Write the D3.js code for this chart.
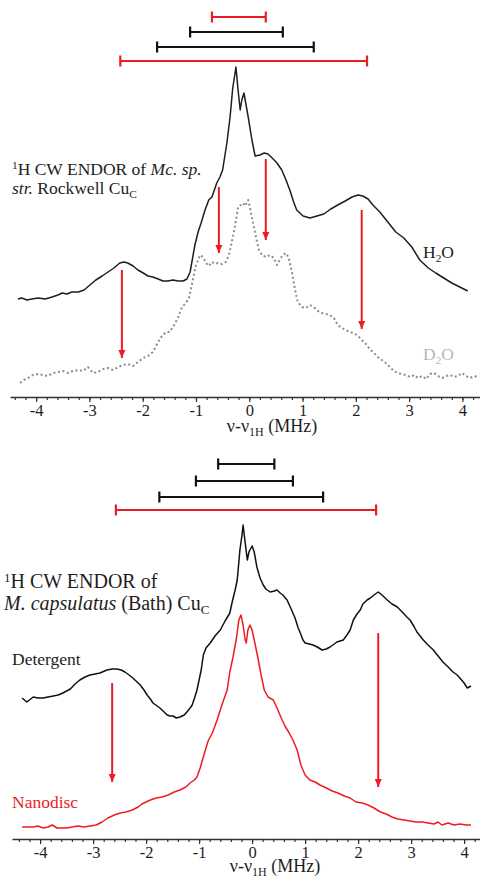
<!DOCTYPE html>
<html>
<head>
<meta charset="utf-8">
<script src="https://cdn.jsdelivr.net/npm/d3@7"></script>
<style>
  body { margin: 0; background: #fff; }
  svg text { font-family: 'Liberation Serif', 'Times New Roman', 'DejaVu Serif', serif; }
</style>
</head>
<body>
<svg id="chart" width="480" height="878"></svg>
<script>
// ---- top panel: Mc. sp. str. Rockwell CuC (intensity in arbitrary units) ----
var h2oMHz = [-4.34,-4.27,-4.17,-4.08,-3.96,-3.83,-3.70,-3.59,-3.51,-3.42,-3.33,-3.21,-3.10,-2.99,-2.88,-2.76,-2.65,-2.54,-2.43,-2.35,
              -2.28,-2.18,-2.09,-1.99,-1.90,-1.81,-1.71,-1.62,-1.53,-1.43,-1.34,-1.24,-1.17,-1.11,-1.08,-1.02,-0.96,-0.91,-0.83,-0.76,
              -0.70,-0.61,-0.55,-0.50,-0.42,-0.36,-0.31,-0.25,-0.21,-0.17,-0.14,-0.10,-0.06,-0.02,0.05,0.11,0.20,0.28,0.35,0.43,
              0.52,0.61,0.69,0.76,0.84,0.89,1.01,1.14,1.27,1.40,1.53,1.66,1.80,1.93,2.04,2.13,2.23,2.32,2.45,2.60,
              2.75,2.90,3.05,3.20,3.36,3.50,3.65,3.80,3.95,4.10];
var h2oInt = [98,99,97,98,99,98,100,102,104,103,105,105,107,112,117,121,125,129,134,135,
              134,131,127,124,121,120,118,116,116,117,116,116,118,125,134,152,165,173,187,197,
              200,214,220,227,254,280,309,330,307,287,297,304,292,280,257,241,242,244,243,239,
              234,227,217,207,194,187,181,179,181,183,188,192,196,200,202,201,198,192,185,175,
              165,159,150,137,129,124,119,114,110,106];

var d2oMHz = [-4.30,-4.23,-4.15,-4.06,-3.96,-3.87,-3.78,-3.68,-3.59,-3.49,-3.40,-3.31,-3.21,-3.12,-3.03,-2.93,-2.84,-2.74,-2.65,-2.56,
              -2.46,-2.37,-2.28,-2.18,-2.09,-1.99,-1.90,-1.81,-1.71,-1.64,-1.56,-1.49,-1.41,-1.34,-1.26,-1.19,-1.13,-1.08,-1.00,-0.92,
              -0.87,-0.81,-0.76,-0.70,-0.64,-0.59,-0.51,-0.44,-0.38,-0.32,-0.27,-0.21,-0.16,-0.12,-0.08,-0.02,0.01,0.07,0.13,0.18,
              0.24,0.31,0.39,0.46,0.52,0.58,0.63,0.69,0.74,0.80,0.86,0.91,0.99,1.06,1.14,1.21,1.29,1.36,1.44,1.51,
              1.59,1.66,1.74,1.81,1.89,1.96,2.04,2.11,2.19,2.26,2.34,2.41,2.49,2.56,2.64,2.71,2.79,2.86,2.94,3.02,
              3.09,3.17,3.24,3.32,3.39,3.47,3.54,3.62,3.69,3.77,3.84,3.92,3.99,4.07,4.14,4.23,4.31];
var d2oInt = [14,17,19,22,23,22,21,24,25,26,24,26,27,26,30,24,25,28,29,27,
              30,32,33,31,35,39,41,45,55,61,65,65,72,79,90,94,99,112,132,142,
              140,134,131,135,133,134,133,135,142,157,170,190,192,194,191,197,190,174,159,147,
              142,140,142,139,132,138,142,144,139,125,107,95,90,89,92,90,86,84,83,82,
              79,72,69,67,65,64,61,57,53,48,44,40,37,34,30,26,24,23,22,20,
              22,19,21,18,23,24,21,19,21,22,20,21,24,21,19,21,19];

// arrows: position (MHz), start and end intensity
var topArrowMHz  = [-2.39, -0.57, 0.31, 2.11],
    topArrowFrom = [127, 210, 238, 187],
    topArrowTo   = [39, 144, 157, 68];

// coupling bars: low / high edge (MHz), level (intensity units), red or black
var topBarLo    = [-0.70, -1.11, -1.73, -2.42],
    topBarHi    = [0.31, 0.63, 1.21, 2.21],
    topBarLevel = [380, 365, 350, 336],
    topBarRed   = [true, false, false, true];

// ---- bottom panel: M. capsulatus (Bath) CuC ----
var detMHz = [-4.34,-4.25,-4.13,-4.04,-3.94,-3.85,-3.75,-3.66,-3.57,-3.43,-3.34,-3.25,-3.15,-3.06,-2.96,-2.87,-2.74,-2.64,-2.55,-2.47,
              -2.40,-2.32,-2.25,-2.17,-2.11,-2.04,-1.98,-1.92,-1.87,-1.79,-1.74,-1.66,-1.60,-1.55,-1.49,-1.43,-1.36,-1.28,-1.23,-1.17,
              -1.13,-1.08,-1.04,-1.00,-0.96,-0.92,-0.87,-0.79,-0.70,-0.60,-0.51,-0.42,-0.38,-0.32,-0.28,-0.25,-0.23,-0.19,-0.17,-0.13,
              -0.09,-0.06,0.00,0.04,0.09,0.15,0.21,0.26,0.34,0.42,0.47,0.53,0.58,0.66,0.72,0.77,0.81,0.87,0.91,0.96,
              1.00,1.08,1.15,1.23,1.32,1.40,1.47,1.55,1.60,1.66,1.72,1.79,1.85,1.91,1.98,2.04,2.09,2.17,2.23,2.30,
              2.38,2.45,2.55,2.64,2.74,2.85,2.92,2.98,3.06,3.11,3.17,3.23,3.32,3.42,3.51,3.60,3.70,3.79,3.87,3.92,
              4.00,4.06,4.13];
var detInt = [141,137,142,141,141,142,143,144,146,150,155,159,162,164,165,166,169,170,170,169,
              167,164,161,157,154,149,144,140,136,133,131,127,124,123,123,121,122,124,127,131,
              134,142,149,159,169,184,191,196,203,209,218,226,236,249,259,277,289,304,314,296,
              279,287,293,287,272,261,254,250,247,248,249,246,244,239,232,226,221,211,206,199,
              196,195,194,192,189,190,192,195,197,198,199,204,209,219,225,229,235,239,241,244,
              247,244,239,235,232,226,222,219,212,207,203,199,194,189,183,177,172,167,164,161,
              156,151,153];

var nanoMHz = [-4.34,-4.25,-4.13,-4.04,-3.94,-3.85,-3.77,-3.68,-3.58,-3.49,-3.40,-3.28,-3.17,-3.06,-2.94,-2.83,-2.72,-2.60,-2.49,-2.38,
               -2.26,-2.15,-2.08,-2.00,-1.92,-1.81,-1.70,-1.58,-1.47,-1.36,-1.25,-1.17,-1.09,-1.04,-0.98,-0.91,-0.83,-0.75,-0.66,-0.57,
               -0.47,-0.42,-0.36,-0.30,-0.25,-0.21,-0.17,-0.13,-0.11,-0.08,-0.04,0.00,0.06,0.11,0.17,0.23,0.30,0.40,0.47,0.55,
               0.62,0.70,0.77,0.85,0.92,1.00,1.09,1.19,1.28,1.40,1.51,1.62,1.74,1.85,1.96,2.08,2.19,2.30,2.42,2.53,
               2.64,2.75,2.87,2.98,3.09,3.21,3.32,3.43,3.51,3.58,3.70,3.81,3.92,4.04,4.13];
var nanoInt = [12,12,12,13,11,12,14,11,11,11,12,13,12,13,14,17,21,24,26,27,
               29,32,35,37,39,41,42,44,47,49,52,56,59,62,71,84,98,106,119,134,
               149,167,182,199,219,224,214,199,196,209,214,209,194,181,164,149,142,139,131,121,
               113,106,99,89,74,64,59,57,54,51,48,46,43,41,37,36,34,31,27,25,
               22,20,19,18,17,17,16,15,17,14,16,14,15,14,14];

var botArrowMHz  = [-2.64, 2.38],
    botArrowFrom = [156, 206],
    botArrowTo   = [57, 52];

var botBarLo    = [-0.64, -1.06, -1.75, -2.57],
    botBarHi    = [0.42, 0.77, 1.34, 2.34],
    botBarLevel = [375, 358, 342, 329],
    botBarRed   = [false, false, false, true];

var majorTicks = [-4, -3, -2, -1, 0, 1, 2, 3, 4];

var RED = "#ec1c24", INK = "#1e1e1e";
var svg = d3.select("#chart");

svg.append("defs").append("marker")
    .attr("id", "head")
    .attr("viewBox", "0 0 8 8")
    .attr("refX", 8).attr("refY", 4)
    .attr("markerWidth", 8).attr("markerHeight", 8)
    .attr("markerUnits", "userSpaceOnUse")
    .attr("orient", "auto")
  .append("path")
    .attr("d", "M0,0.5L8,4L0,7.5Z")
    .attr("fill", RED);

function zipPts(xs, ys) {
  return d3.range(Math.min(xs.length, ys.length)).map(function(i){ return [xs[i], ys[i]]; });
}

function drawPanel(p) {
  var x = d3.scaleLinear().domain(p.xDomain).range(p.xRange),
      y = d3.scaleLinear().domain([0, p.yTop]).range([p.axisY, p.axisY - p.yTop]);
  var g = svg.append("g");

  // axis: minor ticks every 0.2 MHz, labelled majors
  g.append("g")
      .attr("transform", "translate(0," + p.axisY + ")")
      .call(d3.axisBottom(x).ticks(44).tickSize(3).tickSizeOuter(0).tickFormat(""))
      .call(function(a){ a.select(".domain").attr("stroke", "#333").attr("stroke-width", 1.4); })
      .call(function(a){ a.selectAll(".tick line").attr("stroke", "#333").attr("stroke-width", 1.2); });
  g.append("g")
      .attr("transform", "translate(0," + p.axisY + ")")
      .call(d3.axisBottom(x).tickValues(majorTicks).tickSize(5).tickSizeOuter(0)
              .tickFormat(function(d){ return String(d); }))
      .call(function(a){
        a.attr("font-family", null).attr("font-size", 16.5);
        a.select(".domain").remove();
        a.selectAll(".tick line").attr("stroke", "#333").attr("stroke-width", 1.2);
        a.selectAll(".tick text").attr("fill", INK).attr("dy", "0.66em");
      });

  var lab = g.append("text")
      .attr("x", p.labelX).attr("y", p.axisY + p.labelDy)
      .attr("text-anchor", "middle").attr("font-size", 18).attr("fill", INK);
  lab.append("tspan").text("\u03bd-\u03bd");
  lab.append("tspan").attr("font-size", 12).attr("dy", 3.5).text("1H");
  lab.append("tspan").attr("dy", -3.5).text(" (MHz)");

  var line = d3.line()
      .x(function(d){ return x(d[0]); })
      .y(function(d){ return y(d[1]); });

  p.curves.forEach(function(c) {
    g.append("path")
      .datum(zipPts(c.mhz, c.val))
      .attr("d", line)
      .attr("fill", "none")
      .attr("stroke", c.color)
      .attr("stroke-width", c.width)
      .attr("stroke-dasharray", c.dash || null)
      .attr("stroke-linejoin", "round");
  });

  // arrows
  g.selectAll(".arrow")
    .data(d3.range(p.arrowMHz.length))
    .enter().append("line")
      .attr("class", "arrow")
      .attr("x1", function(i){ return x(p.arrowMHz[i]); })
      .attr("x2", function(i){ return x(p.arrowMHz[i]); })
      .attr("y1", function(i){ return y(p.arrowFrom[i]); })
      .attr("y2", function(i){ return y(p.arrowTo[i]); })
      .attr("stroke", RED).attr("stroke-width", 2)
      .attr("marker-end", "url(#head)");

  // coupling bars with end caps
  var bars = g.selectAll(".bar")
    .data(d3.range(p.barLo.length))
    .enter().append("g")
      .attr("class", "bar")
      .attr("stroke", function(i){ return p.barRed[i] ? RED : "#111"; })
      .attr("stroke-width", 2.2);
  bars.append("line")
      .attr("x1", function(i){ return x(p.barLo[i]); })
      .attr("x2", function(i){ return x(p.barHi[i]); })
      .attr("y1", function(i){ return y(p.barLevel[i]); })
      .attr("y2", function(i){ return y(p.barLevel[i]); });
  [p.barLo, p.barHi].forEach(function(edge) {
    bars.append("line")
      .attr("x1", function(i){ return x(edge[i]); })
      .attr("x2", function(i){ return x(edge[i]); })
      .attr("y1", function(i){ return y(p.barLevel[i]) - 5.5; })
      .attr("y2", function(i){ return y(p.barLevel[i]) + 5.5; });
  });
  return g;
}

drawPanel({
  xDomain: [-4.49, 4.33], xRange: [10, 480], axisY: 397, yTop: 400, labelX: 272, labelDy: 35,
  curves: [
    {mhz: h2oMHz, val: h2oInt, color: INK, width: 1.5},
    {mhz: d2oMHz, val: d2oInt, color: "#8c8c8c", width: 2, dash: "2,2.6"}
  ],
  arrowMHz: topArrowMHz, arrowFrom: topArrowFrom, arrowTo: topArrowTo,
  barLo: topBarLo, barHi: topBarHi, barLevel: topBarLevel, barRed: topBarRed
});

drawPanel({
  xDomain: [-4.53, 4.30], xRange: [12, 480], axisY: 839, yTop: 400, labelX: 275, labelDy: 33,
  curves: [
    {mhz: detMHz, val: detInt, color: "#111", width: 1.5},
    {mhz: nanoMHz, val: nanoInt, color: RED, width: 1.5}
  ],
  arrowMHz: botArrowMHz, arrowFrom: botArrowFrom, arrowTo: botArrowTo,
  barLo: botBarLo, barHi: botBarHi, barLevel: botBarLevel, barRed: botBarRed
});

// ---- text labels ----
function title(xp, yp, size, parts) {
  var t = svg.append("text").attr("x", xp).attr("y", yp)
      .attr("font-size", size).attr("fill", INK);
  var shift = 0;
  parts.forEach(function(s) {
    var ts = t.append("tspan").text(s.t);
    var want = s.sup ? -6 : (s.sub ? 4 : 0);
    if (want != shift) { ts.attr("dy", want - shift); shift = want; }
    if (s.sup || s.sub) ts.attr("font-size", size * 0.65);
    if (s.i) ts.attr("font-style", "italic");
  });
  return t;
}

title(12, 175, 17.5, [{t: "1", sup: true}, {t: "H CW ENDOR of "}, {t: "Mc. sp.", i: true}]);
title(12, 194, 17.5, [{t: "str.", i: true}, {t: " Rockwell Cu"}, {t: "C", sub: true}]);
title(4, 588, 20, [{t: "1", sup: true}, {t: "H CW ENDOR of"}]);
title(4, 610, 20, [{t: "M. capsulatus", i: true}, {t: " (Bath) Cu"}, {t: "C", sub: true}]);

title(423, 258, 17.5, [{t: "H"}, {t: "2", sub: true}, {t: "O"}]);
title(423, 360, 17.5, [{t: "D"}, {t: "2", sub: true}, {t: "O"}]).attr("fill", "#b8b8b8");

title(12, 665, 17.5, [{t: "Detergent"}]);
title(12, 808, 17.5, [{t: "Nanodisc"}]).attr("fill", RED);
</script>
</body>
</html>
